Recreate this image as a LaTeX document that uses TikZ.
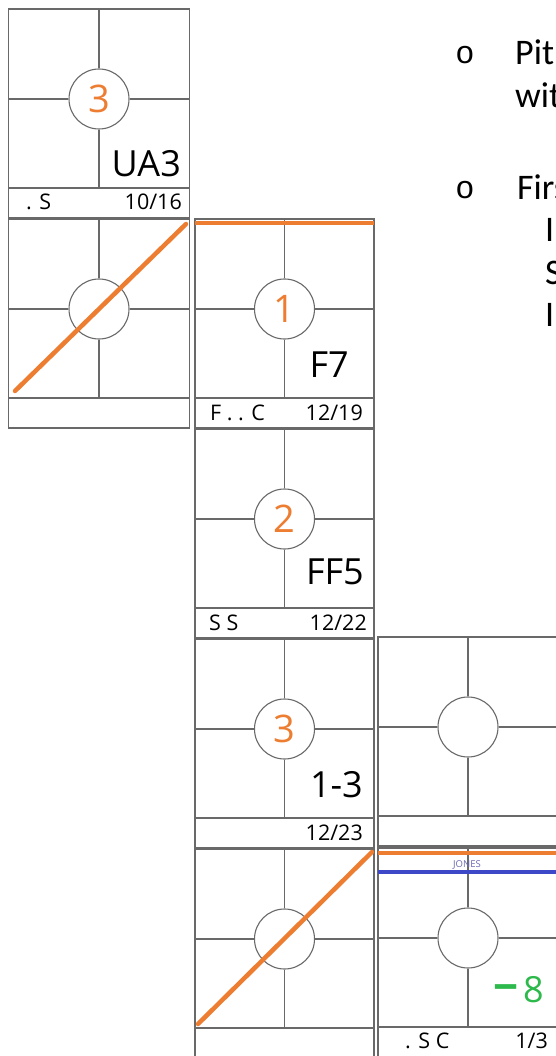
\documentclass[tikz,border=0pt]{standalone}
\usepackage{fontspec}
\setmainfont{Open Sans}
\newfontfamily\docfont{Carlito}
\newfontfamily\bulfont{Liberation Mono}
\definecolor{gridgray}{RGB}{105,105,105}
\definecolor{markorange}{RGB}{237,125,49}
\definecolor{markblue}{RGB}{60,72,200}
\definecolor{markgreen}{RGB}{45,185,75}
\definecolor{jonesblue}{RGB}{105,105,180}
\tikzset{
  boxline/.style={draw=gridgray, line width=1.2pt},
  ring/.style={circle, draw=gridgray, line width=1.1pt, minimum size=60pt, inner sep=0pt,
    text=markorange, font=\fontsize{38}{40}\selectfont},
  biglabel/.style={anchor=base east, inner sep=0pt, font=\fontsize{36}{40}\selectfont},
  barleft/.style={anchor=base west, inner sep=0pt, font=\fontsize{21.5}{24}\selectfont},
  barright/.style={anchor=base east, inner sep=0pt, font=\fontsize{21.5}{24}\selectfont},
  markline/.style={draw=markorange, line width=4.5pt},
  diagline/.style={draw=markorange, line width=4.5pt, line cap=round},
  blueline/.style={draw=markblue, line width=4.5pt},
  doctext/.style={anchor=base west, inner sep=0pt, font=\docfont\fontsize{36}{43}\selectfont},
  bullet/.style={anchor=base, inner sep=0pt, font=\bulfont\fontsize{32}{43}\selectfont}
}
\newcommand\abbox[5]{%
  \begin{scope}[shift={(#2,#3)}]
    \draw[boxline] (0,0) rectangle (#4,209);
    \draw[boxline] (0,179) -- (#4,179);
    \node[ring] (#1) at (#4/2,90) {#5};
    \draw[boxline] (#4/2,0) -- (#1.north);
    \draw[boxline] (#1.south) -- (#4/2,179);
    \draw[boxline] (0,90) -- (#1.west);
    \draw[boxline] (#1.east) -- (#4,90);
  \end{scope}}
\begin{document}
\begin{tikzpicture}[x=1pt,y=-1pt]
\useasboundingbox (0,0) rectangle (556,1056);
\fill[white] (0,0) rectangle (556,1056);
\clip (0,0) rectangle (556,1056);

% column A
\abbox{a1}{8.5}{9}{181}{3}
\abbox{a2}{8.5}{219}{181}{}
% column B
\abbox{b1}{195}{219}{179}{1}
\abbox{b2}{195}{429}{179}{2}
\abbox{b3}{195}{639}{179}{3}
\abbox{b4}{195}{849}{179}{}
% column C
\abbox{c1}{378}{637}{180}{}
\abbox{c2}{378}{848}{180}{}

% big labels
\node[biglabel] (ua3) at (181,177) {UA3};
\node[biglabel] (f7) at (349,377) {F7};
\node[biglabel] (ff5) at (364,584) {FF5};
\node[biglabel] (onethree) at (363,797) {1-3};
\node[biglabel, text=markgreen] (minus8) at (544,1002) {{\bfseries\fontsize{44}{44}\selectfont −}\kern5pt 8};

% bar labels
\node[barleft] (a1l) at (26,210) {. S};
\node[barright] (a1r) at (182,210) {10/16};
\node[barleft] (b1l) at (210,420) {F . . C};
\node[barright] (b1r) at (363,420) {12/19};
\node[barleft] (b2l) at (209,630) {S S};
\node[barright] (b2r) at (367,630) {12/22};
\node[barright] (b3r) at (363,840) {12/23};
\node[barleft] (c2l) at (405,1048) {. S C};
\node[barright] (c2r) at (548,1048) {1/3};

% orange / blue marks
\coordinate (b1tl) at (195,223);
\coordinate (b1tr) at (374,223);
\draw[markline] (b1tl) -- (b1tr);
\coordinate (a2s) at (15,391);
\coordinate (a2e) at (186,224);
\draw[diagline] (a2s) -- (a2e);
\coordinate (b4s) at (198,1024);
\coordinate (b4e) at (372,852);
\draw[diagline] (b4s) -- (b4e);
\coordinate (c2ol) at (378,853);
\coordinate (c2or) at (558,853);
\draw[markline] (c2ol) -- (c2or);
\coordinate (c2bl) at (378,872);
\coordinate (c2br) at (558,872);
\draw[blueline] (c2bl) -- (c2br);
\node[inner sep=0pt, text=jonesblue, font=\fontsize{9.5}{10}\selectfont] (jones) at (467,865) {JONES};

% text on the right
\node[bullet] (bul1) at (465,64) {o};
\node[doctext] (t1) at (515,65) {Pit};
\node[doctext] (t2) at (515,108) {wit};
\node[bullet] (bul2) at (465,199) {o};
\node[doctext] (t3) at (517,200) {Firs};
\node[doctext] (t4) at (545,242) {I};
\node[doctext] (t5) at (545,284) {S};
\node[doctext] (t6) at (545,326) {I};
\end{tikzpicture}
\end{document}
